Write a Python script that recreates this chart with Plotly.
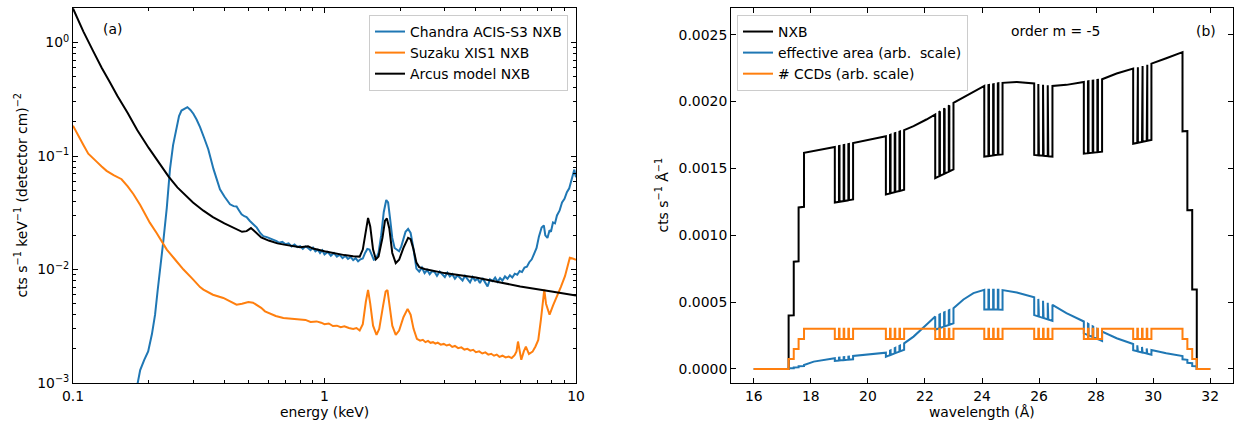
import numpy as np
import plotly.graph_objects as go

W, H = 1238, 423

# ---------------- panel (a) data ----------------
chandra_e = [0.180, 0.185, 0.192, 0.199, 0.206, 0.212, 0.217, 0.222, 0.229, 0.236,
             0.243, 0.250, 0.257, 0.264, 0.270, 0.278, 0.285, 0.293, 0.301, 0.310,
             0.320, 0.332, 0.345, 0.362, 0.373, 0.384, 0.400, 0.421, 0.435, 0.447,
             0.458, 0.468, 0.480, 0.490, 0.505, 0.520, 0.538, 0.555, 0.571, 0.590,
             0.610, 0.626, 0.645, 0.660, 0.680, 0.700, 0.720, 0.740, 0.760, 0.780,
             0.800, 0.820, 0.840, 0.860, 0.880, 0.900, 0.920, 0.940, 0.960, 0.980,
             1.000, 1.030, 1.060, 1.090, 1.120, 1.150, 1.180, 1.210, 1.240, 1.270,
             1.300, 1.330, 1.360, 1.390, 1.420, 1.450, 1.480, 1.510, 1.540, 1.570,
             1.600, 1.640, 1.680, 1.720, 1.760, 1.790, 1.820, 1.860, 1.900, 1.940,
             1.980, 2.020, 2.060, 2.100, 2.150, 2.200, 2.250, 2.290,
             2.32, 2.38, 2.44, 2.50, 2.56, 2.62, 2.68, 2.74, 2.80, 2.87,
             2.94, 3.01, 3.08, 3.15, 3.22, 3.30, 3.38, 3.46, 3.54, 3.62,
             3.70, 3.79, 3.88, 3.97, 4.06, 4.15, 4.25, 4.35, 4.45, 4.55,
             4.66, 4.77, 4.88, 4.99, 5.10, 5.22, 5.34, 5.46, 5.58, 5.71,
             5.84, 5.97, 6.10, 6.24, 6.38, 6.52, 6.67, 6.82, 6.97, 7.12,
             7.20, 7.30, 7.45, 7.55, 7.70, 7.85, 7.95, 8.10, 8.25, 8.40,
             8.60, 8.80, 9.00, 9.20, 9.40, 9.60, 9.75, 9.85, 9.93, 10.00]
chandra_v = [0.00095, 0.0013, 0.0016, 0.0019, 0.0027, 0.0040, 0.0065, 0.0107, 0.0184, 0.035,
             0.0767, 0.125, 0.173, 0.225, 0.252, 0.262, 0.270, 0.255, 0.236, 0.210,
             0.180, 0.145, 0.115, 0.0767, 0.062, 0.051, 0.044, 0.0376, 0.0362, 0.0359,
             0.0330, 0.0307, 0.0295, 0.0290, 0.0268, 0.0250, 0.0234, 0.0210, 0.0197, 0.0193,
             0.0187, 0.0184, 0.0178, 0.0172, 0.0175, 0.0167, 0.0170, 0.0160, 0.0166, 0.0158,
             0.0161, 0.0152, 0.0160, 0.0155, 0.0148, 0.0156, 0.0145, 0.0150, 0.0140, 0.0148,
             0.0136, 0.0143, 0.0132, 0.0140, 0.0130, 0.0135, 0.0126, 0.0132, 0.0124, 0.0129,
             0.0121, 0.0126, 0.0118, 0.0123, 0.0125, 0.0140, 0.0152, 0.0150, 0.0135, 0.0122,
             0.0124, 0.0140, 0.0200, 0.0320, 0.0410, 0.0390, 0.0290, 0.0190, 0.0155, 0.0150,
             0.0145, 0.0160, 0.0185, 0.0215, 0.0228, 0.0210, 0.0160, 0.0118,
             0.0102, 0.0096, 0.0104, 0.0093, 0.0099, 0.0091, 0.0097, 0.0095, 0.0088, 0.0096,
             0.0090, 0.0086, 0.0094, 0.0087, 0.0091, 0.0083, 0.0089, 0.0085, 0.0080, 0.0088,
             0.0082, 0.0077, 0.0086, 0.0080, 0.0083, 0.0076, 0.0084, 0.0078, 0.0071, 0.0082,
             0.0079, 0.0085, 0.0078, 0.0084, 0.0080, 0.0087, 0.0083, 0.0089, 0.0085, 0.0092,
             0.0090, 0.0097, 0.0095, 0.0104, 0.0106, 0.0116, 0.0123, 0.0138, 0.0155, 0.0195,
             0.0215, 0.0235, 0.0245, 0.0200, 0.0190, 0.0222, 0.0215, 0.0260, 0.0255, 0.0300,
             0.0330, 0.0390, 0.0420, 0.0480, 0.0520, 0.0620, 0.0700, 0.0760, 0.0690, 0.0650]

suzaku_e = [0.100, 0.105, 0.110, 0.115, 0.119, 0.125, 0.130, 0.136, 0.145, 0.156,
            0.165, 0.174, 0.185, 0.196, 0.202, 0.215, 0.236, 0.255, 0.275, 0.300,
            0.320, 0.330, 0.360, 0.396, 0.420, 0.447, 0.470, 0.498, 0.520, 0.538,
            0.560, 0.580, 0.610, 0.640, 0.686, 0.720, 0.760, 0.800, 0.840, 0.880,
            0.930, 0.970, 1.000, 1.040, 1.080, 1.120, 1.160, 1.200, 1.250, 1.300,
            1.340, 1.380, 1.420, 1.460, 1.490, 1.520, 1.560, 1.610, 1.650, 1.710,
            1.750, 1.780, 1.810, 1.860, 1.920, 1.980, 2.060, 2.140, 2.200, 2.260,
            2.330, 2.400, 2.460, 2.520, 2.580, 2.640, 2.700, 2.760, 2.820, 2.900,
            2.980, 3.060, 3.140, 3.220, 3.300, 3.400, 3.500, 3.600, 3.700, 3.800,
            3.900, 4.000, 4.120, 4.240, 4.360, 4.480, 4.600, 4.720, 4.840, 4.960,
            5.100, 5.250, 5.400, 5.550, 5.700, 5.800, 5.880, 5.960, 6.060, 6.200,
            6.320, 6.500, 6.720, 6.900, 7.080, 7.250, 7.400, 7.480, 7.600, 7.850,
            8.100, 8.410, 8.700, 9.040, 9.300, 9.450, 9.700, 10.00]
suzaku_v = [0.185, 0.150, 0.125, 0.105, 0.097, 0.088, 0.081, 0.0741, 0.068, 0.0625,
            0.054, 0.0461, 0.037, 0.0287, 0.0259, 0.0210, 0.0150, 0.0122, 0.0100, 0.0082,
            0.0070, 0.00665, 0.0060, 0.00562, 0.0053, 0.0049, 0.0050, 0.00518, 0.0051, 0.0049,
            0.0046, 0.00428, 0.0041, 0.0039, 0.00374, 0.0037, 0.00365, 0.00362, 0.0036, 0.00345,
            0.00349, 0.0034, 0.0033, 0.00335, 0.00318, 0.0032, 0.0031, 0.00316, 0.00305, 0.0030,
            0.00305, 0.0029, 0.0033, 0.0052, 0.0066, 0.0050, 0.0032, 0.00266, 0.0030, 0.0048,
            0.0064, 0.0066, 0.0052, 0.0032, 0.00266, 0.0029, 0.0038, 0.0045, 0.0040, 0.0030,
            0.00245, 0.00236, 0.00240, 0.00229, 0.00235, 0.00226, 0.00229, 0.00222, 0.00227, 0.00218,
            0.00221, 0.00214, 0.00218, 0.00208, 0.00212, 0.00203, 0.00206, 0.00197, 0.00200, 0.00193,
            0.00196, 0.00187, 0.00190, 0.00182, 0.00186, 0.00178, 0.00181, 0.00174, 0.00178, 0.00170,
            0.00174, 0.00168, 0.00171, 0.00166, 0.00176, 0.0019, 0.00232, 0.0019, 0.0016, 0.0019,
            0.00209, 0.0018, 0.00189, 0.0021, 0.0024, 0.0036, 0.0060, 0.00665, 0.0050, 0.0040,
            0.0048, 0.00581, 0.0070, 0.00873, 0.0110, 0.0127, 0.0125, 0.0122]

arcus_e = [0.100, 0.110, 0.120, 0.130, 0.140, 0.150, 0.165, 0.180, 0.200, 0.220,
           0.240, 0.260, 0.280, 0.300, 0.330, 0.360, 0.400, 0.440, 0.470, 0.490,
           0.510, 0.530, 0.560, 0.600, 0.650, 0.700, 0.800, 0.860, 0.900, 1.000,
           1.100, 1.200, 1.300, 1.380, 1.420, 1.460, 1.490, 1.520, 1.560, 1.600,
           1.640, 1.700, 1.740, 1.770, 1.810, 1.860, 1.920, 1.980, 2.060, 2.150,
           2.200, 2.260, 2.320, 2.380, 2.500, 3.000, 4.000, 5.000, 6.000, 8.000, 10.00]
arcus_v = [2.00, 1.25, 0.85, 0.60, 0.45, 0.34, 0.24, 0.17, 0.118, 0.087,
           0.066, 0.053, 0.045, 0.039, 0.033, 0.029, 0.0255, 0.0230, 0.0215, 0.0218,
           0.0232, 0.0215, 0.0192, 0.0180, 0.0170, 0.0165, 0.0157, 0.0160, 0.0153, 0.0145,
           0.0138, 0.0134, 0.0131, 0.0130, 0.0150, 0.0230, 0.0285, 0.0240, 0.0150, 0.0123,
           0.0130, 0.0190, 0.0270, 0.0282, 0.0230, 0.0140, 0.0114, 0.0122, 0.0155, 0.0190,
           0.0185, 0.0150, 0.0115, 0.0105, 0.0101, 0.0093, 0.0085, 0.0077, 0.0071, 0.0064, 0.0059]

# ---------------- panel (b) data ----------------
lam_knots = [16.0, 17.22, 17.76, 18.10, 18.84, 19.48, 20.63, 21.26, 21.60, 22.05,
             22.36, 23.00, 23.35, 23.70, 24.08, 24.64, 24.72, 25.22, 25.83, 26.47,
             26.96, 27.57, 28.21, 28.72, 29.30, 29.94, 30.46, 31.03, 31.53, 32.0]
nxb_env = [0.00160, 0.00160, 0.001617, 0.00163, 0.00166, 0.00169, 0.00174, 0.001786, 0.001816, 0.001866,
           0.001904, 0.00199, 0.00203, 0.00207, 0.002117, 0.00214, 0.00214, 0.002147, 0.002135, 0.002117,
           0.002125, 0.002147, 0.002167, 0.00221, 0.002247, 0.002284, 0.002324, 0.00237, 0.00238, 0.00238]
area_env = [0.0, 0.00002, 0.00003, 0.000055, 0.00008, 0.000097, 0.000122, 0.00019, 0.000242, 0.00033,
            0.000392, 0.000455, 0.00052, 0.000567, 0.000592, 0.000592, 0.00059, 0.000572, 0.000537, 0.00048,
            0.000417, 0.000355, 0.00028, 0.00023, 0.000187, 0.000142, 0.000117, 0.000097, 0.00008, 0.00008]
ccd_scale = 0.0003          # arbitrary scale for 4 CCDs
n_ccd_full = 4
ccd_edges = [16.0, 17.22, 17.40, 17.57, 17.76, 31.03, 31.20, 31.37, 31.53, 32.0]
ccd_levels = [0, 1, 2, 3, 4, 3, 2, 1, 0]
gap_starts = [18.84, 20.63, 22.36, 24.08, 25.83, 27.57, 29.30]
dip_offsets = [0.0, 0.165, 0.33, 0.495]
dip_width = 0.145

# piecewise-constant CCD count (each chip gap removes one CCD)
segs = [[a, b, n] for a, b, n in zip(ccd_edges[:-1], ccd_edges[1:], ccd_levels)]
dips = sorted((s + o, s + o + dip_width) for s in gap_starts for o in dip_offsets)
bounds = sorted(set(ccd_edges + [d[0] for d in dips] + [d[1] for d in dips]))
pieces = []
for a, b in zip(bounds[:-1], bounds[1:]):
    mid = 0.5 * (a + b)
    n = next(s[2] for s in segs if s[0] <= mid <= s[1])
    if any(d0 <= mid <= d1 for d0, d1 in dips):
        n -= 1
    pieces.append((a, b, n))


def build(env):
    xs, ys = [], []
    for a, b, n in pieces:
        inner = [k for k in lam_knots if a < k < b]
        for p in [a] + inner + [b]:
            e = np.interp(p, lam_knots, env) if env is not None else ccd_scale
            xs.append(p)
            ys.append(e * n / n_ccd_full)
    return xs, ys


nxb_x, nxb_y = build(nxb_env)
area_x, area_y = build(area_env)
ccd_x, ccd_y = build(None)

FONT = "DejaVu Sans"
FS = 13.9
BLUE, ORANGE = "#1f77b4", "#ff7f0e"

fig = go.Figure()
fig.add_trace(go.Scatter(x=chandra_e, y=chandra_v, mode="lines", name="Chandra ACIS-S3 NXB",
                         line=dict(color=BLUE, width=2), xaxis="x", yaxis="y", legend="legend"))
fig.add_trace(go.Scatter(x=suzaku_e, y=suzaku_v, mode="lines", name="Suzaku XIS1 NXB",
                         line=dict(color=ORANGE, width=2), xaxis="x", yaxis="y", legend="legend"))
fig.add_trace(go.Scatter(x=arcus_e, y=arcus_v, mode="lines", name="Arcus model NXB",
                         line=dict(color="black", width=2), xaxis="x", yaxis="y", legend="legend"))

fig.add_trace(go.Scatter(x=nxb_x, y=nxb_y, mode="lines", name="NXB",
                         line=dict(color="black", width=2), xaxis="x2", yaxis="y2", legend="legend2"))
fig.add_trace(go.Scatter(x=area_x, y=area_y, mode="lines", name="effective area (arb.  scale)",
                         line=dict(color=BLUE, width=2), xaxis="x2", yaxis="y2", legend="legend2"))
fig.add_trace(go.Scatter(x=ccd_x, y=ccd_y, mode="lines", name="# CCDs (arb. scale)",
                         line=dict(color=ORANGE, width=2), xaxis="x2", yaxis="y2", legend="legend2"))

minor_x = [m * 10 ** d for d in (-1, 0) for m in range(2, 10)]
minor_y = [m * 10 ** d for d in (-3, -2, -1, 0) for m in range(2, 10)]

common = dict(ticks="inside", ticklen=5, tickwidth=1, tickcolor="black", showline=True,
              linecolor="black", linewidth=1, mirror="allticks", showgrid=False, zeroline=False,
              automargin=False, tickfont=dict(family=FONT, size=FS, color="black"))
ydom = [1 - 383 / H, 1 - 8 / H]

fig.update_layout(
    width=W, height=H, margin=dict(l=0, r=0, t=0, b=0, pad=0), autosize=False,
    paper_bgcolor="white", plot_bgcolor="white",
    font=dict(family=FONT, size=FS, color="black"),
    xaxis=dict(domain=[73 / W, 576 / W], type="log", range=[-1, 1], anchor="y",
               tickmode="array", tickvals=[0.1, 1, 10], ticktext=["0.1", "1", "10"],
               minor=dict(tickmode="array", tickvals=minor_x, ticks="inside", ticklen=3,
                          tickwidth=1, tickcolor="black", showgrid=False), **common),
    yaxis=dict(domain=ydom, type="log", range=[-3, 0.305], anchor="x",
               tickmode="array", tickvals=[0.001, 0.01, 0.1, 1],
               ticktext=["10<sup>−3</sup>", "10<sup>−2</sup>", "10<sup>−1</sup>", "10<sup>0</sup>"],
               minor=dict(tickmode="array", tickvals=minor_y, ticks="inside", ticklen=3,
                          tickwidth=1, tickcolor="black", showgrid=False), **common),
    xaxis2=dict(domain=[731 / W, 1233 / W], range=[15.2, 32.8], anchor="y2",
                tickmode="array", tickvals=list(range(16, 33, 2)), **common),
    yaxis2=dict(domain=ydom, range=[-0.000105, 0.0027], anchor="x2",
                tickmode="array", tickvals=[0, 0.0005, 0.001, 0.0015, 0.002, 0.0025],
                ticktext=["0.0000", "0.0005", "0.0010", "0.0015", "0.0020", "0.0025"], **common),
    legend=dict(x=568 / W, y=1 - 15 / H, xanchor="right", yanchor="top",
                bgcolor="rgba(255,255,255,0.8)", bordercolor="#cccccc", borderwidth=1,
                font=dict(family=FONT, size=FS, color="black")),
    legend2=dict(x=737 / W, y=1 - 15 / H, xanchor="left", yanchor="top",
                 bgcolor="rgba(255,255,255,0.8)", bordercolor="#cccccc", borderwidth=1,
                 font=dict(family=FONT, size=FS, color="black")),
    showlegend=True,
)

ann = [
    dict(text="(a)", x=112 / W, y=1 - 29 / H),
    dict(text="order m = -5", x=1055 / W, y=1 - 31 / H),
    dict(text="(b)", x=1206 / W, y=1 - 31 / H),
    dict(text="energy (keV)", x=324.5 / W, y=1 - 412 / H),
    dict(text="wavelength (Å)", x=982 / W, y=1 - 412 / H),
    dict(text="cts s<sup>−1</sup> keV<sup>−1</sup> (detector cm)<sup>−2</sup>", x=22 / W, y=1 - 195.5 / H,
         textangle=-90),
    dict(text="cts s<sup>−1</sup> Å<sup>−1</sup>", x=663 / W, y=1 - 195.5 / H, textangle=-90),
]
for a in ann:
    fig.add_annotation(xref="paper", yref="paper", showarrow=False, xanchor="center", yanchor="middle",
                       font=dict(family=FONT, size=FS, color="black"), **a)

fig.write_html("out.html")
